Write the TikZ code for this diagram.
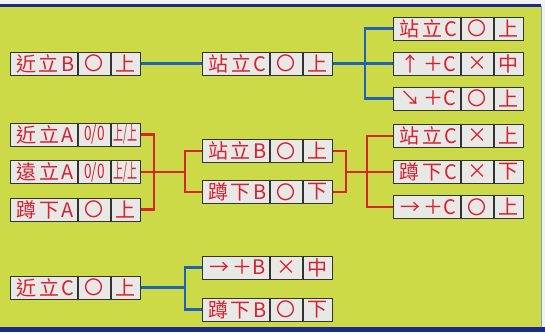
\documentclass[tikz,border=0pt]{standalone}
\usepackage{fontspec}
\usepackage{graphicx}
\newfontfamily\cjk{Noto Sans CJK TC}
\definecolor{bgc}{HTML}{CCDA48}
\definecolor{cellc}{HTML}{E8E8E6}
\definecolor{txtc}{HTML}{D8202E}
\definecolor{bluec}{HTML}{1F63B8}
\definecolor{redc}{HTML}{D7262B}
\definecolor{framec}{HTML}{1E2A8A}
\newcommand\gp{\hspace{2.5pt}}
\newcommand\thin[2]{\scalebox{#1}[1]{\fontsize{20}{20}\selectfont #2}}
\newcommand\ring{\scalebox{0.95}{〇}}
\tikzset{
  cell/.style={draw=black!80, fill=cellc, line width=0.9pt, minimum height=23pt,
    inner sep=0pt, text=txtc, font=\cjk\fontsize{20}{20}\selectfont, anchor=west},
  blueline/.style={draw=bluec, line width=2.6pt},
  redline/.style={draw=redc, line width=2.6pt}
}
% name, x, y(center), t1, t2, t3
\newcommand\trow[6]{%
  \node[cell, minimum width=67pt] (#1a) at (#2,#3) {\hspace{3pt}#4};
  \node[cell, minimum width=32pt] (#1b) at (#1a.east) {#5};
  \node[cell, minimum width=29pt] (#1c) at (#1b.east) {#6};
}
\begin{document}
\begin{tikzpicture}[x=1pt,y=-1pt]
\useasboundingbox (0,0) rectangle (545,332);
\fill[gray!10] (0,0) rectangle (545,332);
\fill[bgc] (0,6) rectangle (541,327);
\draw[framec, line width=2.5pt] (0,5.5) -- (541,5.5);
\fill[framec] (0,327) rectangle (545,332);
\draw[bluec!60, line width=0.8pt] (541.5,6) -- (541.5,327);

% group 1
\trow{La}{10}{63.5}{近\gp 立\gp B}{\ring}{上}
\trow{Ma}{202}{63.5}{站\gp 立\gp C}{\ring}{上}
\trow{Ra}{393}{28.5}{站\gp 立\gp C}{\ring}{上}
\trow{Rb}{393}{63.5}{↑\gp ＋C}{×}{中}
\trow{Rc}{393}{98.5}{↘\gp ＋C}{\ring}{上}

% group 2
\trow{Lb}{10}{134.5}{近\gp 立\gp A}{\thin{0.68}{0/0}}{\thin{0.5}{上/上}}
\trow{Lc}{10}{172}{遠\gp 立\gp A}{\thin{0.68}{0/0}}{\thin{0.5}{上/上}}
\trow{Ld}{10}{209.5}{蹲\gp 下\gp A}{\ring}{上}
\trow{Mb}{202}{151}{站\gp 立\gp B}{\ring}{上}
\trow{Mc}{202}{192}{蹲\gp 下\gp B}{\ring}{下}
\trow{Rd}{393}{136}{站\gp 立\gp C}{×}{上}
\trow{Re}{393}{172}{蹲\gp 下\gp C}{×}{下}
\trow{Rf}{393}{207}{→\gp ＋C}{\ring}{上}

% group 3
\trow{Le}{10}{287.5}{近\gp 立\gp C}{\ring}{上}
\trow{Md}{202}{267.5}{→\gp ＋B}{×}{中}
\trow{Me}{202}{309.5}{蹲\gp 下\gp B}{\ring}{下}

% connectors group 1
\coordinate (j1) at (365,63.5);
\draw[blueline] (Lac.east) -- (Maa.west);
\draw[blueline] (Mac.east) -- (j1);
\draw[blueline] (Raa.west) -| (j1) |- (Rca.west);
\draw[blueline] (j1) -- (Rba.west);

% connectors group 2
\coordinate (j2) at (154,172);
\coordinate (j3) at (185,172);
\coordinate (j4) at (346,172);
\coordinate (j5) at (367,172);
\draw[redline] (Lbc.east) -| (j2) |- (Ldc.east);
\draw[redline] (Lcc.east) -- (j3);
\draw[redline] (Mba.west) -| (j3) |- (Mca.west);
\draw[redline] (Mbc.east) -| (j4) |- (Mcc.east);
\draw[redline] (j4) -- (j5);
\draw[redline] (Rda.west) -| (j5) |- (Rfa.west);
\draw[redline] (j5) -- (Rea.west);

% connectors group 3
\coordinate (j6) at (185,287.5);
\draw[blueline] (Lec.east) -- (j6);
\draw[blueline] (Mda.west) -| (j6) |- (Mea.west);
\end{tikzpicture}
\end{document}
